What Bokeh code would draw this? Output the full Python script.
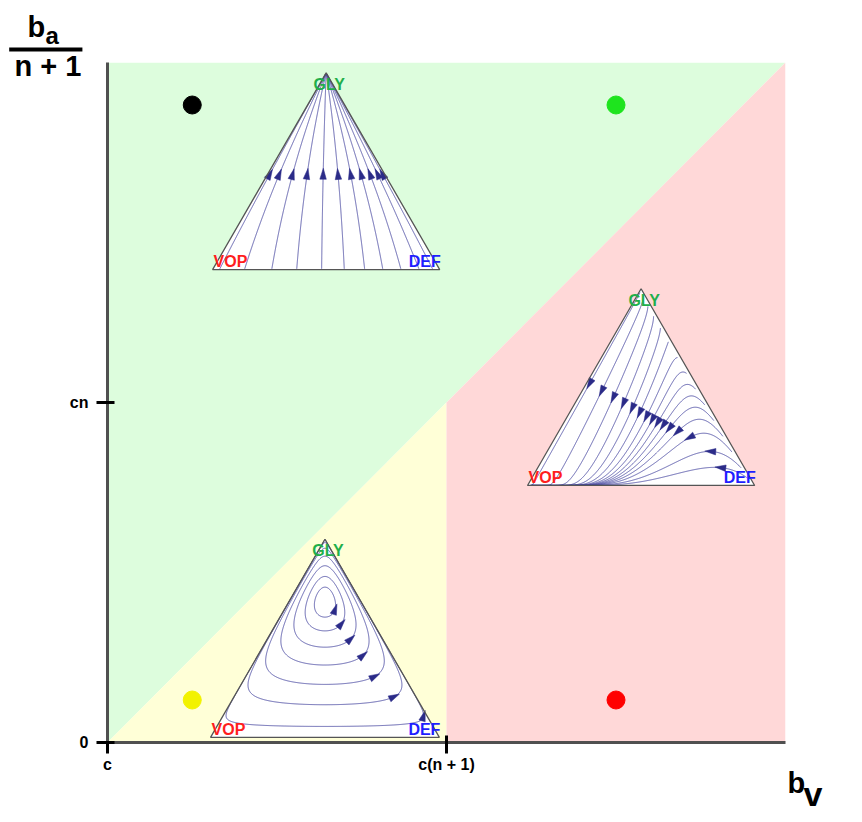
import numpy as np
from bokeh.plotting import figure
from bokeh.models import FixedTicker
from bokeh.embed import file_html
from bokeh.resources import INLINE
from bokeh.core.properties import value

FONT = "Liberation Sans"

# ---------------- axes ----------------
x_ticks = [0, 1]
x_tick_labels = ["c", "c(n + 1)"]
y_ticks = [0, 1]
y_tick_labels = ["0", "cn"]

# ---------------- background regions ----------------
green_x = [0, 0, 2]
green_y = [0, 2, 2]
yellow_x = [0, 1, 1]
yellow_y = [0, 1, 0]
red_x = [1, 1, 2, 2]
red_y = [0, 1, 2, 0]
region_colors = ["#DDFDDD", "#FFFFD7", "#FFD8D8"]

# ---------------- corner dots ----------------
dot_x = [0.25, 1.5, 0.25, 1.5]
dot_y = [1.875, 1.875, 0.125, 0.125]
dot_colors = ["#000000", "#1EE41E", "#F2F200", "#FF0000"]

# ---------------- simplex insets (GLY top, VOP left, DEF right) ----------------
tri_left = [0.31, 1.239, 0.304]
tri_base = [1.391, 0.756, 0.015]
tri_side = [0.67, 0.67, 0.675]
vertex_labels = ["GLY", "VOP", "DEF"]
vertex_colors = ["#1FAF4B", "#FF1E1E", "#1E1EFF"]

# top inset (green region): GLY dominates, VOP/DEF weakly coordinate
k_top = 0.5
top_start_u = [0.03, 0.14, 0.26, 0.37, 0.48, 0.58, 0.67, 0.75, 0.83, 0.91, 0.97]
top_start_g = 0.004
top_arrow_g = 0.48

# right inset (red region): VOP dominates
A_red = [[0.0, -1.0, 0.3],
         [0.5, 0.3, 0.45],
         [0.1, 0.28, 0.0]]
red_start_g = [0.98, 0.95, 0.91, 0.86, 0.8, 0.73, 0.65, 0.57, 0.49, 0.41, 0.33, 0.25, 0.17, 0.09, 0.04]
red_start_v = 0.015
red_arrow_guide_x = [1.425, 1.599, 1.770, 1.829]
red_arrow_guide_y = [1.056, 0.956, 0.874, 0.779]

# bottom inset (yellow region): cyclic dominance, closed orbits
A_bot = [[0.0, -0.229, 0.229],
         [0.229, 0.0, -1.0],
         [-0.229, 1.0, 0.0]]
loop_start_g = [0.640, 0.568, 0.492, 0.410, 0.305, 0.203, 0.102]
loop_start_d = [0.222, 0.284, 0.362, 0.457, 0.560, 0.696, 0.878]

# axis titles
title_text = ["b", "a", "n + 1", "b", "v"]
title_x = [-0.236, -0.183, -0.1755, 2.006, 2.053]
title_y = [2.103, 2.079, 1.991, -0.118, -0.150]
title_size = ["29px", "24px", "29px", "29px", "34px"]
title_align = ["left", "left", "center", "left", "left"]

# ---------------- figure ----------------
W, H = 854, 814
ML, MR, MT, MB = 107, 69, 62, 72
p = figure(width=W, height=H, x_range=(0, 2), y_range=(0, 2),
           output_backend="svg", toolbar_location=None,
           min_border_left=ML, min_border_right=MR, min_border_top=MT, min_border_bottom=MB)
PXX = (W - ML - MR) / 2.0
PXY = (H - MT - MB) / 2.0
p.outline_line_color = None
p.xgrid.visible = False
p.ygrid.visible = False
p.background_fill_color = "white"
p.border_fill_color = "white"

for ax, ticks, labels, standoff in ((p.xaxis, x_ticks, x_tick_labels, 2),
                                    (p.yaxis, y_ticks, y_tick_labels, 8)):
    ax.ticker = FixedTicker(ticks=ticks)
    ax.major_label_overrides = {t: s for t, s in zip(ticks, labels)}
    ax.minor_tick_line_color = None
    ax.major_tick_line_color = "black"
    ax.major_tick_line_width = 3
    ax.major_tick_in = 7
    ax.major_tick_out = 11
    ax.axis_line_color = "#505050"
    ax.axis_line_width = 3
    ax.major_label_text_font = FONT
    ax.major_label_text_font_style = "bold"
    ax.major_label_text_font_size = "16px"
    ax.major_label_text_color = "black"
    ax.major_label_standoff = standoff

# regions
p.patches([green_x, yellow_x, red_x], [green_y, yellow_y, red_y],
          fill_color=region_colors, line_color=None)

# dots
p.scatter(dot_x, dot_y, size=18, color=dot_colors)

SQ3 = np.sqrt(3.0)


def to_xy(P, i):
    P = np.atleast_2d(P)
    g, d = P[:, 0], P[:, 2]
    X = tri_left[i] + tri_side[i] * (d + g / 2.0)
    Y = tri_base[i] + tri_side[i] * (PXX / PXY) * (SQ3 / 2.0) * g
    return X, Y


def replicator(A):
    A = np.array(A, float)

    def f(x):
        fit = A @ x
        return x * (fit - x @ fit)
    return f


def f_top(x):
    g, v, d = x
    fit = np.array([1.0, k_top * g * (v - d), k_top * g * (d - v)])
    return x * (fit - x @ fit)


def integrate(field, x0, ds, nmax, stop=None):
    x = np.array(x0, float)
    pts = [x.copy()]

    def nf(y):
        f = field(y)
        n = np.sqrt((f * f).sum())
        return f / n if n > 1e-14 else np.zeros(3)

    for _ in range(nmax):
        k1 = nf(x)
        k2 = nf(x + 0.5 * ds * k1)
        k3 = nf(x + 0.5 * ds * k2)
        k4 = nf(x + ds * k3)
        x = x + ds * (k1 + 2 * k2 + 2 * k3 + k4) / 6.0
        x = np.clip(x, 1e-12, 1.0)
        x = x / x.sum()
        pts.append(x.copy())
        if stop is not None and stop(x):
            break
    return np.array(pts)


def arrowhead(X, Y, j, L=11.0, Wd=6.5):
    j = int(min(max(j, 1), len(X) - 2))
    dx = (X[j + 1] - X[j - 1]) * PXX
    dy = (Y[j + 1] - Y[j - 1]) * PXY
    n = np.hypot(dx, dy)
    if n == 0:
        return None
    ux, uy = dx / n, dy / n
    px_, py_ = -uy, ux
    cx, cy = X[j], Y[j]
    tip = (cx + ux * L * 0.6 / PXX, cy + uy * L * 0.6 / PXY)
    b1 = (cx + (-ux * L * 0.4 + px_ * Wd / 2) / PXX, cy + (-uy * L * 0.4 + py_ * Wd / 2) / PXY)
    b2 = (cx + (-ux * L * 0.4 - px_ * Wd / 2) / PXX, cy + (-uy * L * 0.4 - py_ * Wd / 2) / PXY)
    return [tip[0], b1[0], b2[0]], [tip[1], b1[1], b2[1]]


line_xs, line_ys, arr_xs, arr_ys = [], [], [], []

# --- top inset
for u in top_start_u:
    x0 = [top_start_g, (1 - top_start_g) * (1 - u), (1 - top_start_g) * u]
    P = integrate(f_top, x0, 0.003, 3000, stop=lambda x: x[0] > 0.993)
    X, Y = to_xy(P, 0)
    line_xs.append(list(X)); line_ys.append(list(Y))
    j = int(np.argmax(P[:, 0] >= top_arrow_g))
    a = arrowhead(X, Y, j)
    if a:
        arr_xs.append(a[0]); arr_ys.append(a[1])

# --- right inset
f_red = replicator(A_red)
gx = np.array(red_arrow_guide_x) * PXX
gy = np.array(red_arrow_guide_y) * PXY


def dist_to_guide(X, Y):
    px_ = X * PXX
    py_ = Y * PXY
    best = np.full(len(X), np.inf)
    for s in range(len(gx) - 1):
        ax_, ay_, bx_, by_ = gx[s], gy[s], gx[s + 1], gy[s + 1]
        vx, vy = bx_ - ax_, by_ - ay_
        t = np.clip(((px_ - ax_) * vx + (py_ - ay_) * vy) / (vx * vx + vy * vy), 0, 1)
        dd = np.hypot(px_ - (ax_ + t * vx), py_ - (ay_ + t * vy))
        best = np.minimum(best, dd)
    return best


for g0 in red_start_g:
    x0 = [g0, red_start_v, 1 - g0 - red_start_v]
    P = integrate(f_red, x0, 0.003, 8000, stop=lambda x: x[1] > 0.985)
    X, Y = to_xy(P, 1)
    line_xs.append(list(X)); line_ys.append(list(Y))
    j = int(np.argmin(dist_to_guide(X, Y)))
    a = arrowhead(X, Y, j)
    if a:
        arr_xs.append(a[0]); arr_ys.append(a[1])

# --- bottom inset (closed orbits)
f_bot = replicator(A_bot)
Ab = np.array(A_bot)
M = np.vstack([Ab, np.ones(3)])
xeq = np.linalg.lstsq(M, np.array([0, 0, 0, 1.0]), rcond=None)[0]
ex, ey = to_xy(xeq, 2)
for g0, d0 in zip(loop_start_g, loop_start_d):
    x0 = [g0, 1 - g0 - d0, d0]
    P = integrate(f_bot, x0, 0.003, 4000)
    X, Y = to_xy(P, 2)
    ang = np.unwrap(np.arctan2((Y - ey[0]) * PXY, (X - ex[0]) * PXX))
    done = np.nonzero(np.abs(ang - ang[0]) >= 2 * np.pi)[0]
    n_end = done[0] + 1 if len(done) else len(X)
    X, Y = X[:n_end], Y[:n_end]
    line_xs.append(list(X) + [X[0]]); line_ys.append(list(Y) + [Y[0]])
    a = arrowhead(X, Y, 1)
    if a:
        arr_xs.append(a[0]); arr_ys.append(a[1])

# triangles (white fill)
corners = np.array([[1, 0, 0], [0, 1, 0], [0, 0, 1]], float)
tri_xs, tri_ys = [], []
for i in range(3):
    X, Y = to_xy(corners, i)
    tri_xs.append(list(X)); tri_ys.append(list(Y))
p.patches(tri_xs, tri_ys, fill_color="white", line_color=None)

p.multi_line(line_xs, line_ys, line_color="#4646A0", line_width=1, line_alpha=0.85)
p.patches(arr_xs, arr_ys, fill_color="#2B2B88", line_color="#2B2B88", line_width=0.5)
p.patches(tri_xs, tri_ys, fill_color=None, line_color="#555555", line_width=1.3)

# vertex labels
lx, ly, lt, lc, la, lb = [], [], [], [], [], []
for i in range(3):
    X, Y = to_xy(corners, i)
    lx += [X[0] + 3 / PXX, X[1] + 1 / PXX, X[2] + 1 / PXX]
    ly += [Y[0] - 3 / PXY, Y[1] + 8 / PXY, Y[2] + 8 / PXY]
    lt += vertex_labels
    lc += vertex_colors
    la += ["center", "left", "right"]
    lb += ["top", "alphabetic", "alphabetic"]
p.text(x=lx, y=ly, text=lt, text_color=lc, text_align=la, text_baseline=lb,
       text_font=value(FONT), text_font_style="bold", text_font_size="16px")

# axis titles (drawn on overlay level so they may sit outside the frame)
t = p.text(x=title_x, y=title_y, text=title_text, text_font_size=title_size,
           text_align=title_align, text_baseline="alphabetic",
           text_font=value(FONT), text_font_style="bold", text_color="black")
t.level = "overlay"
bar = p.segment(x0=[-0.29], y0=[2.038], x1=[-0.074], y1=[2.038], line_color="black", line_width=4)
bar.level = "overlay"

open("out.html", "w").write(file_html(p, INLINE))
